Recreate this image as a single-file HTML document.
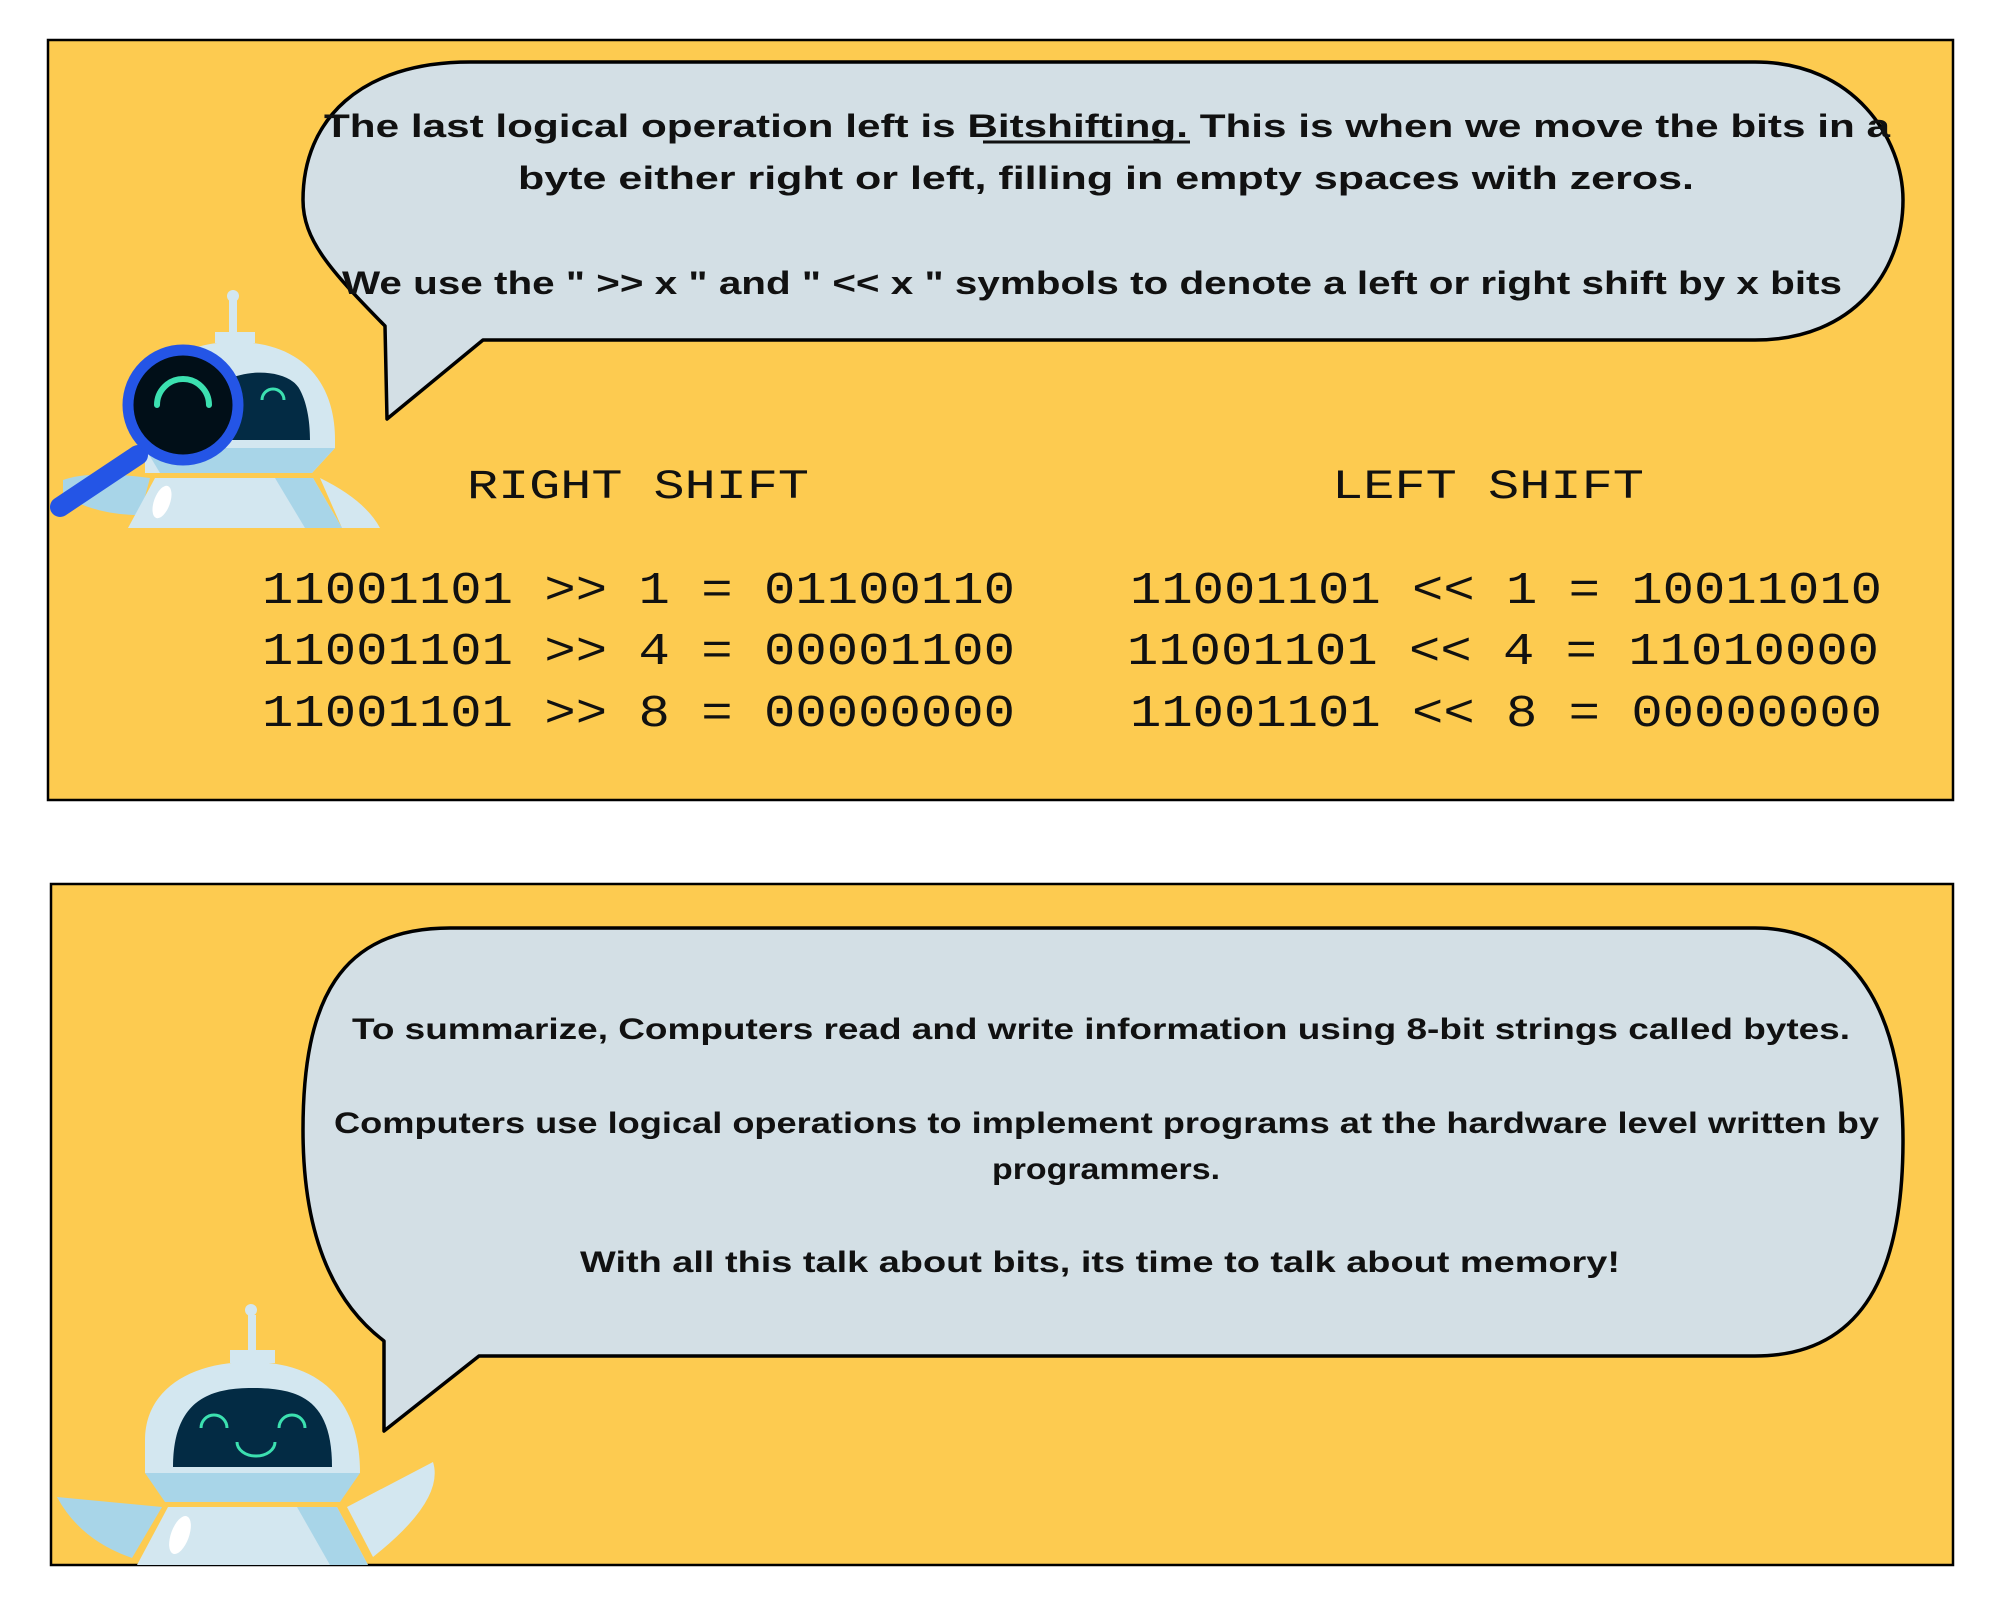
<!DOCTYPE html>
<html><head><meta charset="utf-8"><style>
html,body{margin:0;padding:0;background:#fff;width:2000px;height:1600px;overflow:hidden}
svg{display:block}
.h{font-family:"Liberation Sans",sans-serif;font-weight:bold;fill:#111}
.m{font-family:"Liberation Mono",monospace;fill:#111}
</style></head><body>
<svg width="2000" height="1600" viewBox="0 0 2000 1600" xmlns="http://www.w3.org/2000/svg">
<rect x="48" y="40" width="1905" height="760" fill="#fdcb50" stroke="#000" stroke-width="2.5"/>
<rect x="51" y="884" width="1902" height="681" fill="#fdcb50" stroke="#000" stroke-width="2.5"/>

<path d="M470 62 L1755 62 C1855 62 1903 140 1903 200 C1903 270 1855 340 1755 340 L483 340 L387 419 L385 326 C330 270 303 240 303 200 C303 120 360 62 470 62 Z" fill="#d3dfe5" stroke="#000" stroke-width="3.5" stroke-linejoin="round"/>
<path d="M450 928 L1755 928 C1865 928 1903 1030 1903 1140 C1903 1270 1865 1356 1755 1356 L479 1356 L384 1431 L384 1341 C330 1300 303 1230 303 1130 C303 1000 340 928 450 928 Z" fill="#d3dfe5" stroke="#000" stroke-width="3.5" stroke-linejoin="round"/>

<text class="h" x="324" y="137" font-size="32" textLength="1566" lengthAdjust="spacingAndGlyphs">The last logical operation left is Bitshifting. This is when we move the bits in a</text>
<line x1="983" y1="142" x2="1190" y2="142" stroke="#111" stroke-width="3"/>
<text class="h" x="518" y="189" font-size="32" textLength="1176" lengthAdjust="spacingAndGlyphs">byte either right or left, filling in empty spaces with zeros.</text>
<text class="h" x="342" y="294" font-size="32" textLength="1500" lengthAdjust="spacingAndGlyphs">We use the " &gt;&gt; x " and " &lt;&lt; x " symbols to denote a left or right shift by x bits</text>

<text class="m" x="467" y="498" font-size="42" textLength="342" lengthAdjust="spacingAndGlyphs">RIGHT SHIFT</text>
<text class="m" x="1332" y="498" font-size="42" textLength="312" lengthAdjust="spacingAndGlyphs">LEFT SHIFT</text>
<g class="m" font-size="45">
<text x="262" y="603" textLength="753" lengthAdjust="spacingAndGlyphs">11001101 &gt;&gt; 1 = 01100110</text>
<text x="262" y="664" textLength="753" lengthAdjust="spacingAndGlyphs">11001101 &gt;&gt; 4 = 00001100</text>
<text x="262" y="726" textLength="753" lengthAdjust="spacingAndGlyphs">11001101 &gt;&gt; 8 = 00000000</text>
<text x="1130" y="603" textLength="752" lengthAdjust="spacingAndGlyphs">11001101 &lt;&lt; 1 = 10011010</text>
<text x="1127" y="664" textLength="752" lengthAdjust="spacingAndGlyphs">11001101 &lt;&lt; 4 = 11010000</text>
<text x="1130" y="726" textLength="752" lengthAdjust="spacingAndGlyphs">11001101 &lt;&lt; 8 = 00000000</text>
</g>

<text class="h" x="352" y="1039" font-size="30" textLength="1498" lengthAdjust="spacingAndGlyphs">To summarize, Computers read and write information using 8-bit strings called bytes.</text>
<text class="h" x="334" y="1133" font-size="30" textLength="1545" lengthAdjust="spacingAndGlyphs">Computers use logical operations to implement programs at the hardware level written by</text>
<text class="h" x="992" y="1179" font-size="30" textLength="228" lengthAdjust="spacingAndGlyphs">programmers.</text>
<text class="h" x="580" y="1272" font-size="30" textLength="1040" lengthAdjust="spacingAndGlyphs">With all this talk about bits, its time to talk about memory!</text>

<g>
<path d="M63 480 Q90 470 150 478 L140 515 Q95 515 63 495 Z" fill="#a8d5e8"/>
<path d="M320 478 Q365 500 380 528 L342 528 Z" fill="#d3e7f0"/>
<polygon points="155,478 313,478 342,528 128,528" fill="#d3e7f0"/>
<polygon points="275,478 313,478 342,528 305,528" fill="#a8d5e8"/>
<ellipse cx="162" cy="502" rx="8" ry="17" fill="#fff" transform="rotate(20 162 502)"/>
<rect x="229" y="300" width="8" height="35" fill="#d3e7f0"/>
<circle cx="233" cy="296" r="6" fill="#d3e7f0"/>
<rect x="215" y="332" width="40" height="11" fill="#d3e7f0"/>
<path d="M145 473 L145 420 C145 360 190 342 235 342 C300 342 335 380 335 440 L335 448 L312 473 Z" fill="#d3e7f0"/>
<path d="M145 448 L335 448 L312 473 L160 473 Z" fill="#a8d5e8"/>
<path d="M227 440 L227 380 C250 368 290 370 300 390 C308 405 310 425 310 440 Z" fill="#032b44"/>
<path d="M262 400 a10 10 0 0 1 22 0" fill="none" stroke="#3ce0b0" stroke-width="3"/>
<line x1="138" y1="455" x2="60" y2="507" stroke="#2455e6" stroke-width="20" stroke-linecap="round"/>
<circle cx="183" cy="405" r="55" fill="#010f18" stroke="#2455e6" stroke-width="11"/>
<path d="M157 405 a26 26 0 0 1 52 0" fill="none" stroke="#3ce0b0" stroke-width="6" stroke-linecap="round"/>
</g>

<g>
<path d="M57 1497 L162 1507 L132 1558 Q80 1540 57 1497 Z" fill="#a8d5e8"/>
<path d="M347 1507 L433 1462 Q445 1500 373 1557 Z" fill="#d3e7f0"/>
<polygon points="168,1507 337,1507 368,1565 137,1565" fill="#d3e7f0"/>
<polygon points="297,1507 337,1507 368,1565 330,1565" fill="#a8d5e8"/>
<ellipse cx="180" cy="1535" rx="9" ry="20" fill="#fff" transform="rotate(20 180 1535)"/>
<rect x="248" y="1315" width="8" height="38" fill="#d3e7f0"/>
<circle cx="251" cy="1310" r="6" fill="#d3e7f0"/>
<rect x="230" y="1350" width="45" height="13" fill="#d3e7f0"/>
<path d="M145 1473 L145 1440 C145 1390 190 1362 250 1362 C320 1362 360 1400 360 1473 Z" fill="#d3e7f0"/>
<path d="M145 1473 L360 1473 L340 1502 L165 1502 Z" fill="#a8d5e8"/>
<path d="M173 1467 C173 1400 210 1388 252 1388 C300 1388 332 1400 332 1467 Z" fill="#032b44"/>
<path d="M201 1428 a13 13 0 0 1 26 0" fill="none" stroke="#3ce0b0" stroke-width="3"/>
<path d="M279 1428 a13 13 0 0 1 26 0" fill="none" stroke="#3ce0b0" stroke-width="3"/>
<path d="M237 1442 a19 14 0 0 0 38 0" fill="none" stroke="#3ce0b0" stroke-width="3"/>
</g>
</svg>
</body></html>
